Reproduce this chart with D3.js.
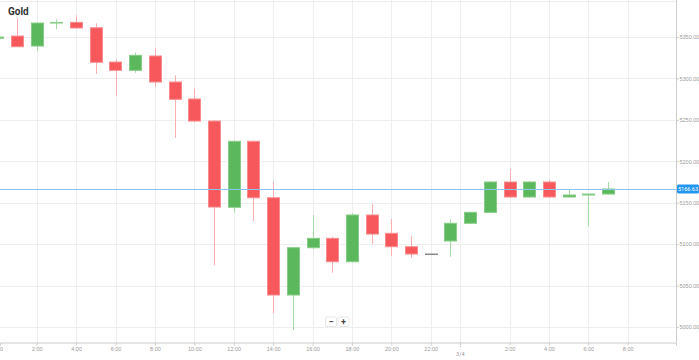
<!DOCTYPE html>
<html><head><meta charset="utf-8">
<script src="https://cdn.jsdelivr.net/npm/d3@7"></script>
<style>html,body{margin:0;padding:0;background:#fff;overflow:hidden}svg{display:block;font-family:Roboto,"Noto Sans",sans-serif}</style>
</head><body>
<svg id="c" width="699" height="360"></svg>
<script>
const title = "Gold";
const hours  = [0,1,2,3,4,5,6,7,8,9,10,11,12,13,14,15,16,17,18,19,20,21,22,23,24,25,26,27,28,29,30,31];
const opens  = [5348.5,5351.2,5339.1,5367.0,5367.7,5361.2,5319.8,5309.8,5327.1,5295.7,5275.2,5248.6,5144.5,5224.1,5156.0,5038.6,5095.7,5107.0,5078.8,5135.2,5113.1,5096.9,5088.1,5103.8,5125.2,5138.4,5175.0,5156.9,5175.0,5156.9,5159.3,5160.5];
const highs  = [5350.5,5372.6,5367.2,5371.4,5376.2,5366.5,5323.1,5331.5,5336.4,5303.8,5287.6,5250.0,5225.0,5225.0,5175.4,5096.0,5135.2,5109.0,5137.2,5148.5,5130.3,5110.2,5088.1,5130.0,5139.0,5176.0,5190.7,5176.0,5177.4,5165.3,5160.5,5175.0];
const lows   = [5348.0,5338.0,5333.1,5359.3,5360.5,5305.3,5279.2,5306.9,5290.0,5228.1,5247.0,5074.8,5138.0,5127.9,5016.5,4996.4,5094.0,5065.5,5078.0,5100.2,5085.7,5083.6,5088.1,5084.8,5124.0,5138.0,5156.0,5156.0,5156.0,5156.0,5121.9,5160.0];
const closes = [5350.0,5338.3,5366.9,5367.5,5360.9,5319.5,5309.8,5327.9,5295.7,5274.8,5248.6,5144.8,5224.1,5156.0,5038.6,5095.7,5107.0,5078.8,5135.2,5112.2,5096.9,5088.1,5088.1,5125.2,5138.4,5175.0,5156.9,5175.0,5156.9,5159.3,5160.5,5166.6];
const xTickHours  = [0,2,4,6,8,10,12,14,16,18,20,22,26,28,30,32];
const xTickLabels = ["0:00","2:00","4:00","6:00","8:00","10:00","12:00","14:00","16:00","18:00","20:00","22:00","2:00","4:00","6:00","8:00"];
const dayTickHour = 23.5;
const dayTickLabel = "3/4";
const yTicks = [5000,5050,5100,5150,5200,5250,5300,5350];
const lastPrice = 5166.6;
const lastPriceLabel = "5166.63";

const W = 676, H = 342;
const svg = d3.select("#c");
const x = d3.scaleLinear().domain([0.137, 34.45]).range([0, W]);
const y = d3.scaleLinear().domain([4981.9, 5394.7]).range([H, 0]);

const grid = svg.append("g");
grid.selectAll("line.h").data(yTicks).join("line")
  .attr("x1",0).attr("x2",W+3).attr("y1",d=>Math.round(y(d))+0.5).attr("y2",d=>Math.round(y(d))+0.5)
  .attr("stroke","#eeeeee");
grid.selectAll("line.v").data(xTickHours.concat([dayTickHour])).join("line")
  .attr("x1",d=>Math.round(x(d))+0.5).attr("x2",d=>Math.round(x(d))+0.5).attr("y1",0).attr("y2",H)
  .attr("stroke","#eeeeee");
svg.append("line").attr("x1",0).attr("x2",W).attr("y1",1.5).attr("y2",1.5).attr("stroke","#eeeeee");

// axes
const ax = svg.append("g").attr("transform",`translate(0,${H+0.5})`)
  .call(d3.axisBottom(x).tickValues(xTickHours).tickFormat((d,i)=>xTickLabels[i]).tickSize(3).tickPadding(2));
ax.select(".domain").attr("stroke","#cccccc");
ax.selectAll(".tick line").attr("stroke","#cccccc");
ax.selectAll(".tick text").attr("fill","#9a9a9a").style("font-size","5.5px");
svg.append("line").attr("x1",Math.round(x(dayTickHour))+0.5).attr("x2",Math.round(x(dayTickHour))+0.5)
  .attr("y1",H).attr("y2",H+5).attr("stroke","#bbbbbb").attr("stroke-dasharray","1,1");
svg.append("text").attr("x",x(dayTickHour)).attr("y",H+14).attr("text-anchor","middle")
  .attr("fill","#9a9a9a").style("font-size","5.5px").text(dayTickLabel);

const ay = svg.append("g").attr("transform",`translate(${W+0.5},0)`)
  .call(d3.axisRight(y).tickValues(yTicks).tickFormat(d3.format(".2f")).tickSize(2).tickPadding(1));
ay.select(".domain").attr("stroke","#cccccc").attr("d",`M0,0V${H}`);
ay.selectAll(".tick line").attr("stroke","#cccccc");
ay.selectAll(".tick text").attr("fill","#9a9a9a").style("font-size","5.5px");

// candles
const data = hours.map((h,i)=>({h,o:opens[i],hi:highs[i],lo:lows[i],c:closes[i]}));
const bw = (x(1)-x(0))*0.61;
const col = d => d.c>d.o ? {f:"#5cb85c",s:"#86cc86",w:"#a6dba6"} : d.c<d.o ? {f:"#f7585c",s:"#f98c8f",w:"#f9aeb0"} : {f:"#888",s:"#888",w:"#bbb"};
const cg = svg.append("g");
cg.selectAll("line.wick").data(data).join("line")
  .attr("x1",d=>Math.round(x(d.h))+0.5).attr("x2",d=>Math.round(x(d.h))+0.5)
  .attr("y1",d=>y(d.hi)).attr("y2",d=>y(d.lo)).attr("stroke",d=>col(d).w).attr("stroke-width",1);
cg.selectAll("rect.body").data(data).join("rect")
  .attr("x",d=>Math.round(x(d.h)-bw/2)+0.5).attr("width",Math.round(bw))
  .attr("y",d=>y(Math.max(d.o,d.c))).attr("height",d=>Math.max(0.5,Math.abs(y(d.o)-y(d.c))))
  .attr("fill",d=>col(d).f).attr("stroke",d=>col(d).s).attr("stroke-width",1);

// last price line
svg.append("line").attr("x1",0).attr("x2",W).attr("y1",Math.round(y(lastPrice))+0.5).attr("y2",Math.round(y(lastPrice))+0.5)
  .attr("stroke","#8cc4f2").attr("stroke-width",1);
svg.append("rect").attr("x",W+1).attr("y",y(lastPrice)-4.5).attr("width",22).attr("height",9).attr("rx",1.5)
  .attr("fill","#2196f3");
svg.append("text").attr("x",W+12).attr("y",y(lastPrice)+2).attr("text-anchor","middle").attr("fill","#fff")
  .style("font-size","5.5px").text(lastPriceLabel);

// title
svg.append("text").attr("x",8).attr("y",15).attr("fill","#333").style("font-size","10px").style("font-weight","bold").text(title);

// zoom buttons
const zb = svg.append("g");
[["−",331],["+",343.5]].forEach(([t,cx])=>{
  zb.append("rect").attr("x",cx-5.5).attr("y",317).attr("width",11).attr("height",9.5).attr("rx",1.5)
    .attr("fill","#fff").attr("stroke","#e6e6e6");
  zb.append("text").attr("x",cx).attr("y",324.5).attr("text-anchor","middle").attr("fill","#444")
    .style("font-size","9px").style("font-weight","bold").text(t);
});
</script>
</body></html>
